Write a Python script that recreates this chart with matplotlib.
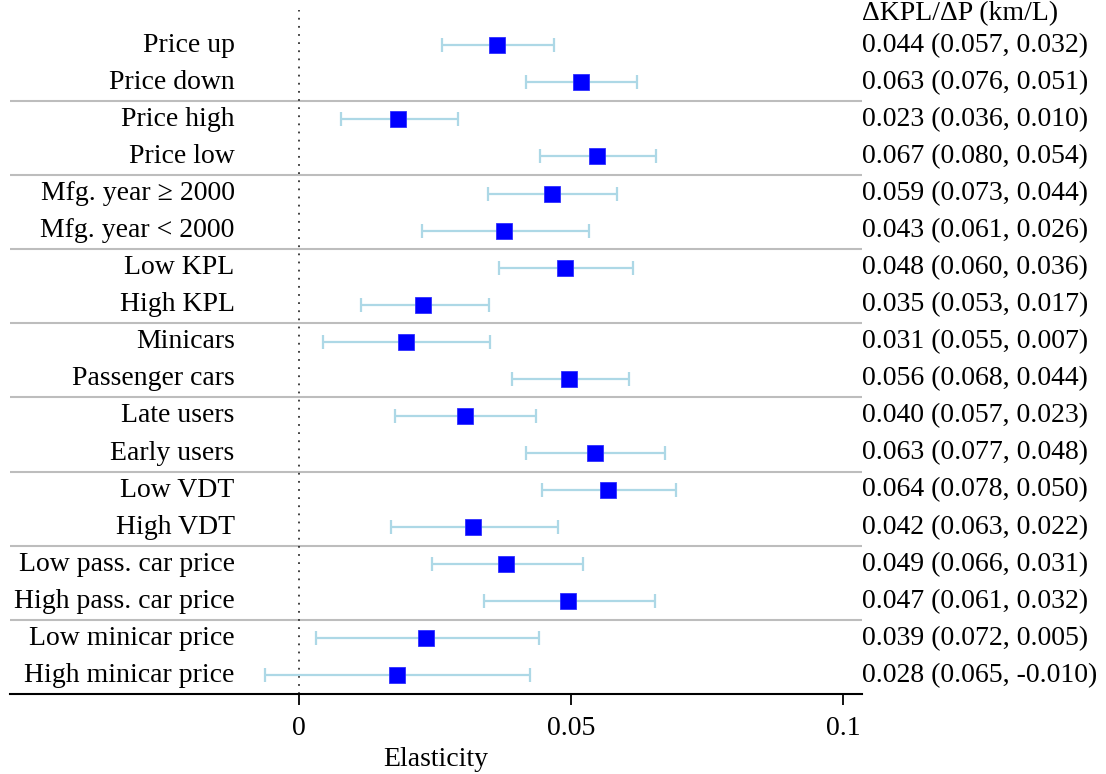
import matplotlib
matplotlib.use("Agg")
import matplotlib.pyplot as plt
import numpy as np

plt.rcParams["font.family"] = ["Liberation Serif", "DejaVu Serif"]

# 그룹별 탄력성 추정치 (점, 신뢰구간)
labels = ["Price up", "Price down", "Price high", "Price low",
          "Mfg. year \u2265 2000", "Mfg. year < 2000", "Low KPL", "High KPL",
          "Minicars", "Passenger cars", "Late users", "Early users",
          "Low VDT", "High VDT", "Low pass. car price", "High pass. car price",
          "Low minicar price", "High minicar price"]
est = [0.0364, 0.0519, 0.0183, 0.0548, 0.0465, 0.0377, 0.0490, 0.0229,
       0.0197, 0.0497, 0.0305, 0.0544, 0.0568, 0.0320, 0.0381, 0.0494,
       0.0234, 0.0180]
ci_lo = [0.0263, 0.0417, 0.0078, 0.0443, 0.0347, 0.0226, 0.0368, 0.0114,
         0.0045, 0.0392, 0.0177, 0.0417, 0.0447, 0.0169, 0.0245, 0.0340,
         0.0032, -0.0063]
ci_hi = [0.0469, 0.0622, 0.0292, 0.0656, 0.0585, 0.0533, 0.0615, 0.0349,
         0.0352, 0.0607, 0.0436, 0.0672, 0.0694, 0.0476, 0.0522, 0.0654,
         0.0441, 0.0424]

# 오른쪽 열: dKPL/dP (km/L)
kpl = ["0.044", "0.063", "0.023", "0.067", "0.059", "0.043", "0.048", "0.035",
       "0.031", "0.056", "0.040", "0.063", "0.064", "0.042", "0.049", "0.047",
       "0.039", "0.028"]
kpl_a = ["0.057", "0.076", "0.036", "0.080", "0.073", "0.061", "0.060", "0.053",
         "0.055", "0.068", "0.057", "0.077", "0.078", "0.063", "0.066", "0.061",
         "0.072", "0.065"]
kpl_b = ["0.032", "0.051", "0.010", "0.054", "0.044", "0.026", "0.036", "0.017",
         "0.007", "0.044", "0.023", "0.048", "0.050", "0.022", "0.031", "0.032",
         "0.005", "-0.010"]
header = "\u0394KPL/\u0394P (km/L)"
xticks = [0, 0.05, 0.1]
xticklabels = ["0", "0.05", "0.1"]

fig = plt.figure(figsize=(11.06, 7.74), dpi=100)
ax = fig.add_axes([10 / 1106, 80 / 774, 852 / 1106, 684 / 774])

y = np.arange(len(labels))
est = np.array(est)
lo = est - np.array(ci_lo)
hi = np.array(ci_hi) - est

# 구분선
for s in np.arange(1.5, len(labels) - 1, 2):
    ax.axhline(s, color="#bdbdbd", lw=1.5, zorder=1)

ax.axvline(0, color="#333333", lw=1.3, linestyle=(0, (1, 3.5)), zorder=1)

ax.errorbar(est, y, xerr=[lo, hi], fmt="none", ecolor="#add8e6",
            elinewidth=1.6, capsize=5, capthick=1.6, zorder=2)
ax.plot(est, y, "s", color="#0000ff", markersize=11.5,
        markeredgecolor="#3030ff", markeredgewidth=0.6, zorder=3)

ax.set_xlim(-0.0531, 0.1035)
ax.set_ylim(len(labels) - 0.5, -0.95)

for i, lab in enumerate(labels):
    ax.text(-0.0118, i, lab, ha="right", va="center", fontsize=20)
    ax.text(1.0, i, f"{kpl[i]} ({kpl_a[i]}, {kpl_b[i]})",
            transform=ax.get_yaxis_transform(), ha="left", va="center",
            fontsize=20, clip_on=False)
ax.text(1.0, -0.85, header, transform=ax.get_yaxis_transform(),
        ha="left", va="center", fontsize=20, clip_on=False)

ax.set_xticks(xticks)
ax.set_xticklabels(xticklabels)
ax.tick_params(axis="x", length=8, width=1.3, labelsize=20, pad=8)
ax.set_yticks([])
ax.set_xlabel("Elasticity", fontsize=20, labelpad=4)

for side in ["left", "right", "top"]:
    ax.spines[side].set_visible(False)
ax.spines["bottom"].set_linewidth(1.5)

fig.savefig("out.png", dpi=100)
